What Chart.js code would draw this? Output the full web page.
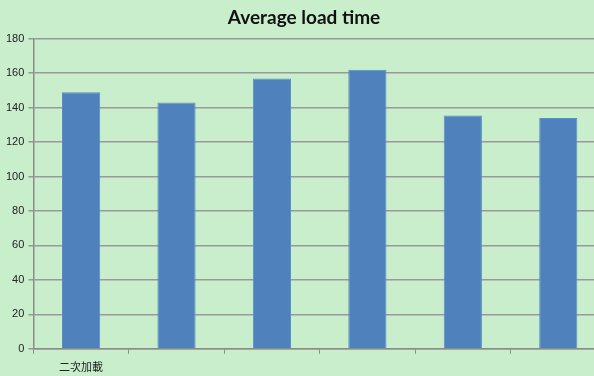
<!DOCTYPE html>
<html>
<head>
<meta charset="utf-8">
<script src="https://cdn.jsdelivr.net/npm/chart.js@4/dist/chart.umd.min.js"></script>
<style>
  html, body { margin: 0; padding: 0; background: #c8eecc; overflow: hidden; }
  #wrap { width: 594px; height: 376px; overflow: hidden; position: relative; }
  canvas { display: block; }
</style>
</head>
<body>
<div id="wrap"><canvas id="chart" width="606" height="383"></canvas></div>
<script>
// data
const categories = ['二次加載', '', '', '', '', ''];
const loadTimes = [149, 143, 157, 162, 135.5, 134];
const yTicks = [0, 20, 40, 60, 80, 100, 120, 140, 160, 180];

const bgPlugin = {
    id: 'bg',
    beforeDraw(chart) {
        const c = chart.ctx;
        c.save();
        c.fillStyle = '#c8eecc';
        c.fillRect(0, 0, chart.width, chart.height);
        c.restore();
    }
};

new Chart(document.getElementById('chart'), {
    type: 'bar',
    data: {
        labels: categories,
        datasets: [{
            data: loadTimes,
            backgroundColor: '#4f81bd',
            borderColor: '#5a8ccb',
            borderWidth: 1,
            barPercentage: 0.8,
            categoryPercentage: 0.5
        }]
    },
    options: {
        responsive: false,
        animation: false,
        layout: { padding: { left: 2, right: 0, top: 0, bottom: 4 } },
        plugins: {
            legend: { display: false },
            tooltip: { enabled: false },
            title: {
                display: true,
                text: 'Average load time',
                color: '#111',
                font: { family: 'Lato', size: 19, weight: 'bold' },
                padding: { top: 6, bottom: 10 }
            }
        },
        scales: {
            x: {
                offset: true,
                grid: { display: true, drawOnChartArea: false, drawTicks: true, tickLength: 5, offset: true, color: '#8c8c8c', lineWidth: 1 },
                border: { color: '#8c8c8c', width: 1.5 },
                ticks: { color: '#222', font: { family: 'Noto Sans CJK TC', size: 11 }, padding: 6, maxRotation: 0, autoSkip: false }
            },
            y: {
                min: 0,
                max: 180,
                afterBuildTicks(scale) { scale.ticks = yTicks.map(v => ({ value: v })); },
                grid: { color: '#999999', lineWidth: 1.5, tickLength: 5 },
                border: { color: '#8c8c8c', width: 1.5 },
                ticks: { color: '#222', font: { family: 'Liberation Sans', size: 11 }, padding: 4 }
            }
        }
    },
    plugins: [bgPlugin]
});
</script>
</body>
</html>
